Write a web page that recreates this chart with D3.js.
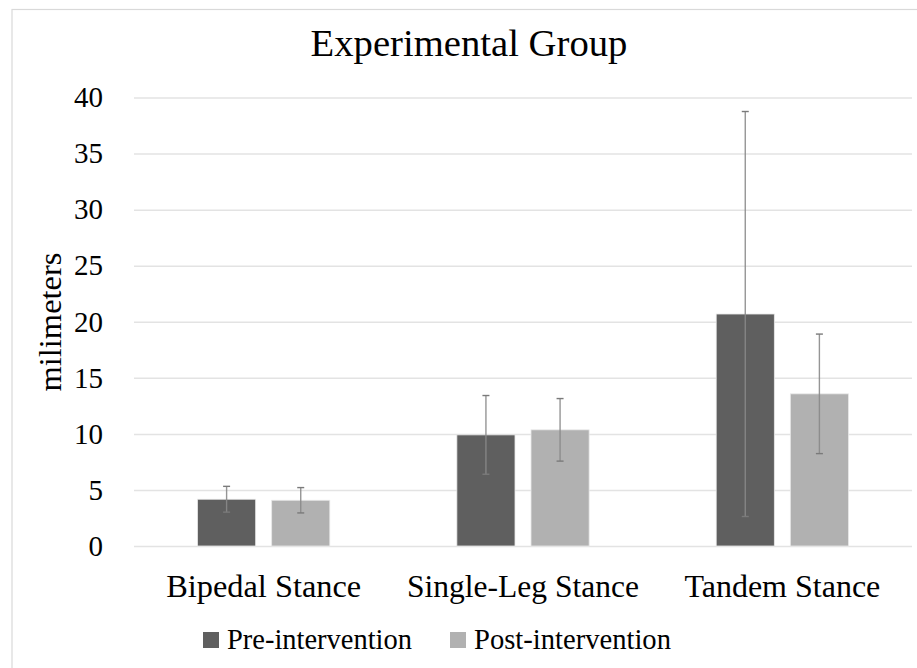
<!DOCTYPE html>
<html><head><meta charset="utf-8">
<script src="https://cdn.jsdelivr.net/npm/d3@7"></script>
<style>html,body{margin:0;padding:0;background:#fff;} svg{display:block;}</style>
</head><body>
<svg id="chart" width="917" height="668"></svg>
<script>
const categories = ["Bipedal Stance", "Single-Leg Stance", "Tandem Stance"];
const seriesNames = ["Pre-intervention", "Post-intervention"];
const preValues = [4.17, 9.91, 20.69];
const preErrors = [1.15, 3.51, 18.06];
const postValues = [4.08, 10.36, 13.57];
const postErrors = [1.13, 2.79, 5.33];
const yTicks = [0, 5, 10, 15, 20, 25, 30, 35, 40];
const titleText = "Experimental Group";
const yTitle = "milimeters";

const colors = {"Pre-intervention": "#5f5f5f", "Post-intervention": "#b1b1b1"};
const FONT = "'Liberation Serif', 'Times New Roman', serif";

const svg = d3.select("#chart");
svg.append("rect").attr("x", 12).attr("y", 9.5).attr("width", 930).attr("height", 700)
  .attr("fill", "#fff").attr("stroke", "#d9d9d9").attr("stroke-width", 1.2);

const x0 = d3.scaleBand().domain(categories).range([134, 912]).padding(0);
const bw = x0.bandwidth();
const x1 = d3.scaleBand().domain(seriesNames).range([bw * 0.245, bw * 0.755]).paddingInner(0.216).paddingOuter(0);
const y = d3.scaleLinear().domain([0, 40]).range([546, 97.5]);

function fit(sel, target) {
  const node = sel.node();
  const fs = parseFloat(sel.attr("font-size"));
  const len = node.getComputedTextLength();
  if (len > 0) sel.attr("font-size", (fs * target / len).toFixed(2));
  return sel;
}

// gridlines
const yAxis = d3.axisLeft(y).tickValues(yTicks).tickSize(-(912 - 134)).tickPadding(31);
const gy = svg.append("g").attr("transform", "translate(134,0)").call(yAxis);
gy.select(".domain").remove();
gy.selectAll(".tick line").attr("stroke", "#e3e3e3").attr("stroke-width", 1.5);
gy.selectAll(".tick text").attr("font-family", FONT).attr("font-size", 29).attr("fill", "#000");

// bars
const data = categories.map((c, i) => ({
  cat: c,
  vals: [
    {s: seriesNames[0], v: preValues[i], e: preErrors[i]},
    {s: seriesNames[1], v: postValues[i], e: postErrors[i]}
  ]
}));
const groups = svg.selectAll("g.grp").data(data).join("g").attr("class", "grp")
  .attr("transform", d => `translate(${x0(d.cat)},0)`);
groups.selectAll("rect").data(d => d.vals).join("rect")
  .attr("x", d => x1(d.s)).attr("width", x1.bandwidth())
  .attr("y", d => y(d.v)).attr("height", d => y(0) - y(d.v))
  .attr("fill", d => colors[d.s]).attr("stroke", "#e8e8e8").attr("stroke-width", 0.8);

// error bars
const eb = groups.selectAll("g.err").data(d => d.vals).join("g").attr("class", "err");
const cx = d => x1(d.s) + x1.bandwidth() / 2;
eb.append("line").attr("x1", cx).attr("x2", cx)
  .attr("y1", d => y(d.v + d.e)).attr("y2", d => y(Math.max(0, d.v - d.e)))
  .attr("stroke", "#8a8a8a").attr("stroke-width", 1.4).attr("opacity", 0.9);
[1, -1].forEach(sign => {
  eb.append("line").attr("x1", d => cx(d) - 3.5).attr("x2", d => cx(d) + 3.5)
    .attr("y1", d => y(d.v + sign * d.e)).attr("y2", d => y(d.v + sign * d.e))
    .attr("stroke", "#7a7a7a").attr("stroke-width", 1.4);
});

// category labels
svg.selectAll("text.cat").data(categories).join("text").attr("class", "cat")
  .attr("x", d => x0(d) + bw / 2).attr("y", 597).attr("text-anchor", "middle")
  .attr("font-family", FONT).attr("font-size", 30).attr("fill", "#000").text(d => d)
  .each(function(d, i) { fit(d3.select(this), [195, 232, 196][i]); });

// title
const t = svg.append("text").attr("x", 469).attr("y", 56).attr("text-anchor", "middle")
  .attr("font-family", FONT).attr("font-size", 36).attr("fill", "#000").text(titleText);
fit(t, 317);

// y title
const yt = svg.append("text").attr("transform", "translate(61,322) rotate(-90)")
  .attr("text-anchor", "middle").attr("font-family", FONT).attr("font-size", 30)
  .attr("fill", "#000").text(yTitle);
fit(yt, 139);

// legend
const legX = [203, 450];
const leg = svg.selectAll("g.leg").data(seriesNames).join("g").attr("class", "leg")
  .attr("transform", (d, i) => `translate(${legX[i]},0)`);
leg.append("rect").attr("x", 0).attr("y", 632).attr("width", 16).attr("height", 16)
  .attr("fill", d => colors[d]);
leg.append("text").attr("x", 24).attr("y", 649).attr("font-family", FONT)
  .attr("font-size", 28).attr("fill", "#000").text(d => d)
  .each(function(d, i) { fit(d3.select(this), [185, 197][i]); });
</script>
</body></html>
